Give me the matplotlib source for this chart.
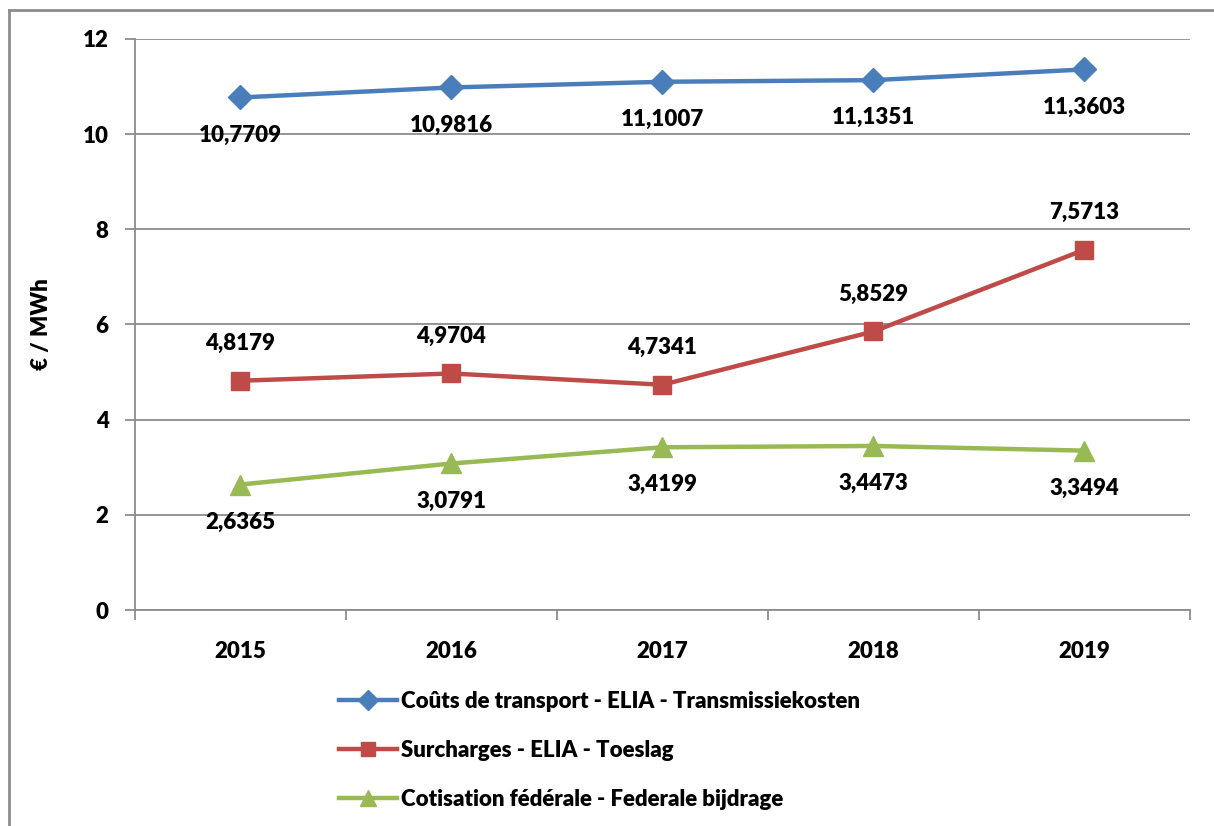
import matplotlib.pyplot as plt
from matplotlib.lines import Line2D
import numpy as np

plt.rcParams['font.family'] = 'Lato'
plt.rcParams['font.weight'] = 'heavy'
W = 'heavy'

years = ['2015', '2016', '2017', '2018', '2019']
transport = [10.7709, 10.9816, 11.1007, 11.1351, 11.3603]
surcharges = [4.8179, 4.9704, 4.7341, 5.8529, 7.5713]
cotisation = [2.6365, 3.0791, 3.4199, 3.4473, 3.3494]
names = ['Coûts de transport - ELIA - Transmissiekosten',
         'Surcharges - ELIA - Toeslag',
         'Cotisation fédérale - Federale bijdrage']

def fmt(v):
    return '{:.4f}'.format(v).replace('.', ',')

fig = plt.figure(figsize=(12.14, 8.26), dpi=100)
ax = fig.add_axes([0.1112, 0.2615, 0.8690, 0.6913])

x = np.arange(len(years))
grey = '#8c8c8c'

series = [
    (transport, '#4a7ebb', 'D', 12, -1),
    (surcharges, '#be4b48', 's', 12.5, 1),
    (cotisation, '#98b954', '^', 14, -1),
]
for (vals, col, mk, ms, side), name in zip(series, names):
    ax.plot(x, vals, color=col, lw=3.2, marker=mk, markersize=ms,
            markeredgecolor=col, label=name, zorder=3)
    for xi, v in zip(x, vals):
        ax.annotate(fmt(v), (xi, v), xytext=(0, 27 * side), textcoords='offset points',
                    ha='center', va='center', fontsize=16, fontweight=W)

ax.set_xlim(-0.5, 4.5)
ax.set_ylim(0, 12)
ax.set_yticks(range(0, 13, 2))
ax.yaxis.grid(True, color=grey, lw=1.3)
ax.set_axisbelow(True)
ax.set_xticks(x)
ax.set_xticklabels(years)
ax.set_xticks(np.arange(-0.5, 5, 1), minor=True)
ax.tick_params(axis='x', which='major', length=0, pad=22, labelsize=16)
ax.tick_params(axis='x', which='minor', length=7, width=1.3, color=grey)
ax.tick_params(axis='y', length=7, width=1.3, color=grey, pad=12, labelsize=16)
for lbl in ax.get_xticklabels() + ax.get_yticklabels():
    lbl.set_fontweight(W)
for s in ['top', 'right']:
    ax.spines[s].set_visible(False)
for s in ['left', 'bottom']:
    ax.spines[s].set_color(grey)
    ax.spines[s].set_linewidth(1.3)
ax.set_ylabel('€ / MWh', fontsize=16, fontweight=W, labelpad=22)

leg = fig.legend(loc='upper left', bbox_to_anchor=(0.272, 0.174), frameon=False,
                 fontsize=16, handlelength=2.6, handletextpad=0.2,
                 labelspacing=1.25, borderaxespad=0, markerscale=0.85)
for t in leg.get_texts():
    t.set_fontweight(W)

# outer chart frame (only top and left edges visible)
fig.add_artist(Line2D([9 / 1214, 9 / 1214], [0, 1 - 10 / 826], transform=fig.transFigure,
                      color=grey, lw=2))
fig.add_artist(Line2D([9 / 1214, 1], [1 - 10 / 826, 1 - 10 / 826], transform=fig.transFigure,
                      color=grey, lw=2))

fig.savefig('out.png', dpi=100)
